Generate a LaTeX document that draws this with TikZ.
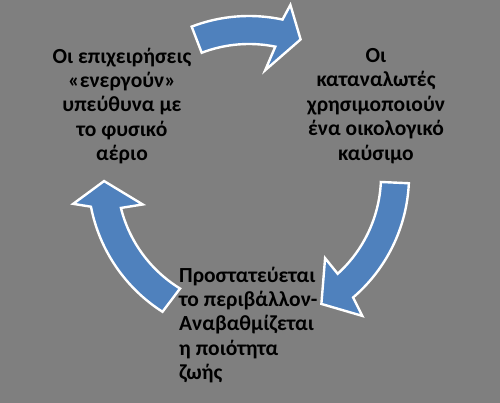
\documentclass[tikz,border=0pt]{standalone}
\usepackage{fontspec}
\setmainfont{Carlito}
\definecolor{bggray}{RGB}{127,127,127}
\definecolor{arrowblue}{RGB}{79,129,189}
\tikzset{
  cyclearrow/.style={fill=arrowblue, draw=white, line width=2.4pt, line join=miter},
  cycletext/.style={font=\bfseries\fontsize{21.5}{24.4}\selectfont, text=black, inner sep=0pt, align=center},
}
\begin{document}
\begin{tikzpicture}[x=1pt,y=1pt]
\fill[bggray] (0,0) rectangle (500,403);
\useasboundingbox (0,0) rectangle (500,403);
\coordinate (c) at (249,227);
% top arrow
\draw[cyclearrow, shift={(c)}] (111:160) arc[start angle=111, end angle=77.9, radius=160]
  -- (76.4:176) -- (69.3:146) -- (81.3:107) -- (78.5:132)
  arc[start angle=78.5, end angle=111, radius=132] -- cycle;
% right arrow
\draw[cyclearrow, shift={(c)}] (-2.6:160) arc[start angle=-2.6, end angle=-49.4, radius=160]
  -- (-51:180) -- (-60.5:147) -- (-47.2:112) -- (-47.8:132)
  arc[start angle=-47.8, end angle=-2.6, radius=132] -- cycle;
% left arrow
\draw[cyclearrow, shift={(c)}] (237.5:161) arc[start angle=237.5, end angle=191, radius=161]
  -- (189:178) -- (182:145) -- (195:110) -- (194:132)
  arc[start angle=194, end angle=238.5, radius=132] -- cycle;
\node[cycletext] (lefttext) at (122,297) {Οι επιχειρήσεις\\«ενεργούν»\\υπεύθυνα με\\το φυσικό\\αέριο};
\node[cycletext] (righttext) at (376,297) {Οι\\καταναλωτές\\χρησιμοποιούν\\ένα οικολογικό\\καύσιμο};
\node[cycletext, align=left, anchor=west] (bottomtext) at (179,78) {Προστατεύεται\\το περιβάλλον-\\Αναβαθμίζεται\\η ποιότητα\\ζωής};
\end{tikzpicture}
\end{document}
